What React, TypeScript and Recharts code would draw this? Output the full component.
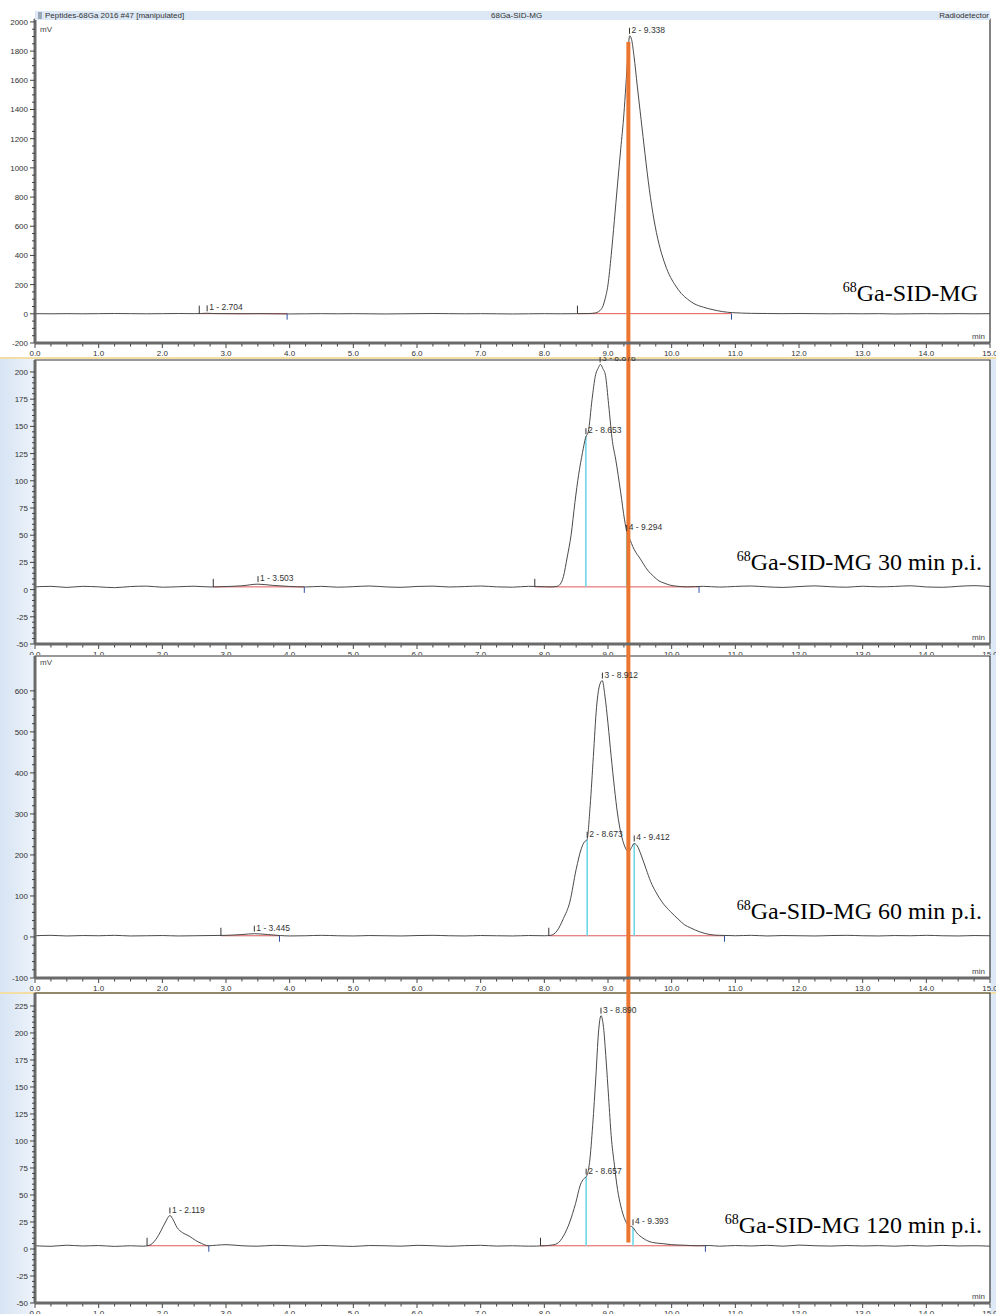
import React from 'react';
import { LineChart, Line, XAxis, YAxis, ReferenceLine, ReferenceDot, ReferenceArea } from 'recharts';

// ---------- DATA ----------
const xMajorTicks = [0, 1, 2, 3, 4, 5, 6, 7, 8, 9, 10, 11, 12, 13, 14, 15];

const p1Trace: number[][] = [
  [0, 1], [0.25, 0], [0.5, 1], [0.75, 0], [1, 1], [1.25, 2], [1.5, 1], [1.75, 0], [2, 1], [2.25, 2], [2.5, 1], [2.6, 2], [2.7, 4], [2.8, 2],
  [3, 1], [3.25, 0], [3.5, 1], [3.75, 0], [4, -1], [4.25, 0], [4.5, 1], [4.75, 0], [5, 1], [5.25, 0], [5.5, -1], [5.75, 0], [6, 1], [6.25, 2],
  [6.5, 1], [6.75, 0], [7, 1], [7.25, 0], [7.5, -1], [7.75, 0], [8, 1], [8.25, 0], [8.5, 1], [8.7, 2], [8.8, 6], [8.9, 35], [8.95, 95],
  [9.0, 200], [9.05, 400], [9.1, 640], [9.15, 890], [9.2, 1130], [9.25, 1370], [9.28, 1560], [9.31, 1760], [9.34, 1905], [9.37, 1880],
  [9.41, 1760], [9.46, 1560], [9.52, 1330], [9.58, 1100], [9.65, 850], [9.72, 650], [9.8, 480], [9.88, 360], [9.96, 270], [10.05, 200],
  [10.15, 140], [10.25, 100], [10.35, 70], [10.5, 45], [10.65, 28], [10.8, 15], [10.95, 8], [11.1, 5], [11.25, 3], [11.5, 2], [11.75, 1],
  [12, 2], [12.25, 1], [12.5, 0], [12.75, 1], [13, 0], [13.25, 1], [13.5, -1], [13.75, 0], [14, 1], [14.25, 0], [14.5, 1], [14.75, 0], [15, 1],
];

const p2Trace: number[][] = [
  [0, 2.5], [0.25, 3], [0.5, 2], [0.75, 3], [1, 2.5], [1.25, 1.8], [1.5, 2.8], [1.75, 3.2], [2, 2.2], [2.25, 2.6], [2.5, 3.1], [2.75, 2.4],
  [3, 2.8], [3.25, 3.5], [3.5, 5], [3.75, 3.8], [4, 2.9], [4.25, 2.4], [4.5, 3], [4.75, 2.2], [5, 2.7], [5.25, 3.3], [5.5, 2.5], [5.75, 2.1],
  [6, 2.9], [6.25, 3.2], [6.5, 2.4], [6.75, 2.8], [7, 3.3], [7.25, 2.5], [7.5, 2.2], [7.75, 3], [8, 2.6], [8.1, 2.4], [8.2, 3], [8.25, 5],
  [8.3, 12], [8.36, 30], [8.42, 50], [8.48, 80], [8.54, 106], [8.6, 126], [8.65, 140], [8.69, 145], [8.75, 175], [8.8, 196], [8.85, 204],
  [8.88, 207], [8.92, 203], [8.96, 197], [9.01, 170], [9.07, 136], [9.12, 120], [9.2, 89], [9.26, 64], [9.3, 52], [9.33, 48], [9.41, 37],
  [9.51, 28], [9.62, 18], [9.72, 12], [9.8, 8], [9.88, 6], [9.98, 4], [10.1, 3], [10.25, 2.5], [10.5, 3], [10.75, 2.3], [11, 2.9],
  [11.25, 3.3], [11.5, 2.5], [11.75, 2], [12, 2.8], [12.25, 3.4], [12.5, 2.6], [12.75, 2.2], [13, 3.1], [13.25, 2.5], [13.5, 2.9],
  [13.75, 3.5], [14, 2.4], [14.25, 2.1], [14.5, 3], [14.75, 3.6], [15, 2.8],
];

const p3Trace: number[][] = [
  [0, 3], [0.25, 4], [0.5, 2.5], [0.75, 3.5], [1, 3], [1.25, 4], [1.5, 2.5], [1.75, 3], [2, 3.5], [2.25, 2.5], [2.5, 3], [2.75, 3.5],
  [3, 4], [3.25, 6], [3.45, 8], [3.65, 6], [3.85, 3.5], [4, 2.5], [4.25, 3], [4.5, 4], [4.75, 3], [5, 2.5], [5.25, 3.5], [5.5, 3],
  [5.75, 2.5], [6, 3.5], [6.25, 4], [6.5, 3], [6.75, 2.5], [7, 3.5], [7.25, 3], [7.5, 2.5], [7.75, 3.5], [8, 3], [8.1, 4], [8.2, 15],
  [8.3, 45], [8.4, 85], [8.5, 165], [8.58, 215], [8.63, 232], [8.67, 237], [8.72, 320], [8.77, 440], [8.82, 560], [8.87, 615], [8.91, 625],
  [8.95, 590], [9.0, 520], [9.05, 440], [9.1, 365], [9.15, 300], [9.2, 255], [9.26, 222], [9.32, 208], [9.37, 218], [9.41, 228],
  [9.46, 222], [9.52, 200], [9.6, 165], [9.67, 135], [9.75, 110], [9.85, 85], [9.98, 62], [10.1, 44], [10.2, 30], [10.3, 22],
  [10.45, 12], [10.6, 6], [10.75, 4], [10.9, 3.5], [11, 3], [11.25, 4], [11.5, 2.5], [11.75, 3.5], [12, 3], [12.25, 2.5], [12.5, 3.5],
  [12.75, 4], [13, 3], [13.25, 2.5], [13.5, 3.5], [13.75, 3], [14, 4], [14.25, 3], [14.5, 2.5], [14.75, 3.5], [15, 3],
];

const p4Trace: number[][] = [
  [0, 3], [0.25, 2.5], [0.5, 3.5], [0.75, 2.8], [1, 3.2], [1.25, 2.4], [1.5, 3], [1.7, 2.6], [1.8, 3.5], [1.9, 9], [1.98, 17], [2.05, 25],
  [2.12, 31], [2.17, 27], [2.23, 20], [2.32, 15], [2.42, 12], [2.52, 8], [2.62, 5], [2.72, 3], [2.85, 3.5], [3, 4], [3.25, 3], [3.5, 2.6],
  [3.75, 3.4], [4, 3], [4.25, 2.5], [4.5, 3.3], [4.75, 2.8], [5, 2.4], [5.25, 3.2], [5.5, 3], [5.75, 2.6], [6, 3.4], [6.25, 3], [6.5, 2.5],
  [6.75, 3.1], [7, 3.4], [7.25, 2.7], [7.5, 3], [7.75, 2.6], [8, 3], [8.1, 3.5], [8.2, 5], [8.3, 12], [8.4, 25], [8.49, 42], [8.57, 60],
  [8.62, 65], [8.66, 67], [8.71, 80], [8.76, 115], [8.81, 160], [8.85, 200], [8.89, 216], [8.93, 205], [8.97, 175], [9.01, 140],
  [9.05, 105], [9.1, 78], [9.15, 55], [9.2, 40], [9.26, 28], [9.32, 22], [9.39, 20], [9.45, 15], [9.55, 10], [9.7, 6], [9.85, 5],
  [10, 4], [10.2, 3.5], [10.4, 3], [10.6, 3.2], [10.75, 2.6], [11, 3.2], [11.25, 2.8], [11.5, 3.4], [11.75, 2.6], [12, 3.6], [12.25, 3],
  [12.5, 2.7], [12.75, 3.2], [13, 2.8], [13.25, 3.1], [13.5, 2.6], [13.75, 3.2], [14, 2.7], [14.25, 3.3], [14.5, 2.8], [14.75, 3], [15, 2.6],
];

// peak labels: [time, value, text]
const p1Peaks: [number, number, string][] = [[2.704, 3, '1 - 2.704'], [9.338, 1905, '2 - 9.338']];
const p2Peaks: [number, number, string][] = [[3.503, 5, '1 - 3.503'], [8.653, 141, '2 - 8.653'], [8.876, 207, '3 - 8.876'], [9.294, 52, '4 - 9.294']];
const p3Peaks: [number, number, string][] = [[3.445, 8, '1 - 3.445'], [8.673, 237, '2 - 8.673'], [8.912, 625, '3 - 8.912'], [9.412, 228, '4 - 9.412']];
const p4Peaks: [number, number, string][] = [[2.119, 31, '1 - 2.119'], [8.657, 67, '2 - 8.657'], [8.89, 216, '3 - 8.890'], [9.393, 20, '4 - 9.393']];

// integration baselines: [start, end, level]
const p1Base: number[][] = [[2.58, 3.96, 1], [8.52, 10.94, 1]];
const p2Base: number[][] = [[2.8, 4.23, 2.5], [7.85, 10.43, 2.5]];
const p3Base: number[][] = [[2.92, 3.84, 3], [8.07, 10.83, 3]];
const p4Base: number[][] = [[1.76, 2.73, 3], [7.94, 10.53, 3]];

// peak separation drop lines: [time, top value]
const p2Drops: number[][] = [[8.653, 141], [9.294, 52]];
const p3Drops: number[][] = [[8.673, 237], [9.412, 228]];
const p4Drops: number[][] = [[8.657, 67], [9.393, 20]];

// orange marker line (time, top value, bottom value) for each panel
const markerTime = 9.32;
const orangeRanges: number[][] = [[1863, -330], [240, -80], [740, -150], [260, 6]];

const panelTitles = ['Ga-SID-MG', 'Ga-SID-MG 30 min p.i.', 'Ga-SID-MG 60 min p.i.', 'Ga-SID-MG 120 min p.i.'];

const p1YMajor = [-200, 0, 200, 400, 600, 800, 1000, 1200, 1400, 1600, 1800, 2000];
const p2YMajor = [-50, -25, 0, 25, 50, 75, 100, 125, 150, 175, 200];
const p3YMajor = [-100, 0, 100, 200, 300, 400, 500, 600];
const p4YMajor = [-50, -25, 0, 25, 50, 75, 100, 125, 150, 175, 200, 225];

// ---------- HELPERS ----------
const sans = '"Liberation Sans", Arial, Helvetica, sans-serif';
const serif = '"Liberation Serif", "Times New Roman", Times, serif';

const steps = (a: number, b: number, s: number) => {
  const out: number[] = [];
  for (let i = 0; a + i * s <= b + 1e-9; i++) out.push(+(a + i * s).toFixed(4));
  return out;
};
const isIn = (arr: number[], v: number) => arr.some((m) => Math.abs(m - v) < 1e-6);

const makeYTick = (majors: number[]) => (props: any) => {
  const { x, y, payload } = props;
  const v = payload.value;
  const major = isIn(majors, v);
  return (
    <g>
      <line x1={x - (major ? 5 : 3)} x2={x} y1={y} y2={y} stroke="#444" strokeWidth={1} />
      {major && (
        <text x={x - 7} y={y} dy={3} textAnchor="end" fontSize={8} fill="#333" fontFamily={sans}>
          {v}
        </text>
      )}
    </g>
  );
};

const XTick = (props: any) => {
  const { x, y, payload } = props;
  const v = payload.value;
  const major = isIn(xMajorTicks, v);
  return (
    <g>
      <line x1={x} x2={x} y1={y + 1} y2={y + (major ? 5 : 3.5)} stroke="#444" strokeWidth={1} />
      {major && (
        <text x={x} y={y + 13} textAnchor="middle" fontSize={8} fill="#333" fontFamily={sans}>
          {v.toFixed(1)}
        </text>
      )}
    </g>
  );
};

const peakLabelShape = (text: string) => (props: any) => {
  const { cx, cy } = props;
  return (
    <g>
      <line x1={cx} x2={cx} y1={cy - 2} y2={cy - 8} stroke="#333" strokeWidth={1} />
      <text x={cx + 2} y={cy - 3} fontSize={8.5} fill="#333" fontFamily={sans}>
        {text}
      </text>
    </g>
  );
};
const startMark = (props: any) => <line x1={props.cx} x2={props.cx} y1={props.cy} y2={props.cy - 8} stroke="#333" strokeWidth={1} />;
const endMark = (props: any) => <line x1={props.cx} x2={props.cx} y1={props.cy} y2={props.cy + 6} stroke="#3050a0" strokeWidth={1} />;

type PanelCfg = {
  top: number;
  height: number;
  marginTop: number;
  xAxisHeight: number;
  domain: [number, number];
  yMajor: number[];
  yMinorStep: number;
  trace: number[][];
  peaks: [number, number, string][];
  base: number[][];
  drops: number[][];
  orange: number[];
  background: string;
  borderTop?: string;
};

const stripBg =
  'linear-gradient(to right, #d7e4f3 0px, #ecf2fa 33px, #ffffff 34px, #ffffff 990px, #dde9f6 991px, #dde9f6 996px)';

const panels: PanelCfg[] = [
  { top: 0, height: 359, marginTop: 19, xAxisHeight: 16, domain: [-200, 2020], yMajor: p1YMajor, yMinorStep: 50, trace: p1Trace, peaks: p1Peaks, base: p1Base, drops: [], orange: orangeRanges[0], background: '#ffffff' },
  { top: 357, height: 302, marginTop: 3, xAxisHeight: 15, domain: [-50, 211], yMajor: p2YMajor, yMinorStep: 5, trace: p2Trace, peaks: p2Peaks, base: p2Base, drops: p2Drops, orange: orangeRanges[1], background: stripBg, borderTop: '2px solid #f3dea6' },
  { top: 655, height: 337, marginTop: 1, xAxisHeight: 14, domain: [-100, 685], yMajor: p3YMajor, yMinorStep: 20, trace: p3Trace, peaks: p3Peaks, base: p3Base, drops: p3Drops, orange: orangeRanges[2], background: stripBg },
  { top: 992, height: 322, marginTop: 1, xAxisHeight: 11, domain: [-50, 237], yMajor: p4YMajor, yMinorStep: 5, trace: p4Trace, peaks: p4Peaks, base: p4Base, drops: p4Drops, orange: orangeRanges[3], background: stripBg, borderTop: '2px solid #f3dea6' },
];

const xTicksAll = steps(0, 15, 0.25);

const Panel = ({ cfg }: { cfg: PanelCfg }) => {
  const data = cfg.trace.map(([t, v]) => ({ t, v }));
  const yTicks = steps(cfg.yMajor[0], cfg.yMajor[cfg.yMajor.length - 1], cfg.yMinorStep);
  return (
    <div
      style={{
        position: 'absolute',
        left: 0,
        top: cfg.top,
        width: 996,
        height: cfg.height,
        background: cfg.background,
        boxSizing: 'border-box',
        borderTop: cfg.borderTop,
      }}
    >
      <div style={{ position: 'absolute', left: 0, top: cfg.borderTop ? -2 : 0 }}>
        <LineChart width={996} height={cfg.height} data={data} margin={{ top: cfg.marginTop, right: 6, bottom: 0, left: 0 }}>
          <ReferenceArea x1={0} x2={15} y1={cfg.domain[0]} y2={cfg.domain[1]} fill="none" stroke="#333" strokeWidth={1.2} ifOverflow="visible" />
          <XAxis
            dataKey="t"
            type="number"
            domain={[0, 15]}
            allowDataOverflow
            ticks={xTicksAll}
            interval={0}
            height={cfg.xAxisHeight}
            tickSize={0}
            tickMargin={0}
            tickLine={false}
            tick={XTick}
            axisLine={{ stroke: '#6a6a6a', strokeWidth: 3 }}
          />
          <YAxis
            type="number"
            domain={cfg.domain}
            allowDataOverflow
            ticks={yTicks}
            interval={0}
            width={35}
            tickSize={0}
            tickMargin={0}
            tickLine={false}
            tick={makeYTick(cfg.yMajor)}
            axisLine={{ stroke: '#6a6a6a', strokeWidth: 3 }}
          />
          {cfg.base.map(([a, b, lv], i) => (
            <ReferenceLine key={'b' + i} segment={[{ x: a, y: lv }, { x: b, y: lv }]} stroke="#e05a5a" strokeWidth={1} ifOverflow="visible" />
          ))}
          {cfg.drops.map(([t, v], i) => (
            <ReferenceLine key={'d' + i} segment={[{ x: t, y: cfg.base[cfg.base.length - 1][2] }, { x: t, y: v }]} stroke="#6fd8e8" strokeWidth={1.6} ifOverflow="visible" />
          ))}
          <Line dataKey="v" type="monotone" stroke="#4a4a4a" strokeWidth={1} dot={false} isAnimationActive={false} />
          {cfg.base.map(([a, , lv], i) => (
            <ReferenceDot key={'s' + i} x={a} y={lv} r={0} ifOverflow="visible" shape={startMark} />
          ))}
          {cfg.base.map(([, b, lv], i) => (
            <ReferenceDot key={'e' + i} x={b} y={lv} r={0} ifOverflow="visible" shape={endMark} />
          ))}
          {cfg.peaks.map(([t, v, txt], i) => (
            <ReferenceDot key={'p' + i} x={t} y={v} r={0} ifOverflow="visible" shape={peakLabelShape(txt)} />
          ))}
          <ReferenceLine
            segment={[{ x: markerTime, y: cfg.orange[0] }, { x: markerTime, y: cfg.orange[1] }]}
            stroke="#ec7630"
            strokeWidth={4}
            ifOverflow="visible"
          />
        </LineChart>
      </div>
    </div>
  );
};

const titleStyle = (right: number, top: number): React.CSSProperties => ({
  position: 'absolute',
  right,
  top,
  fontFamily: serif,
  fontSize: 24,
  lineHeight: '24px',
  whiteSpace: 'nowrap',
  color: '#000',
});

const Title = ({ text, right, top }: { text: string; right: number; top: number }) => (
  <div style={titleStyle(right, top)}>
    <span style={{ fontSize: 14, position: 'relative', top: -9 }}>68</span>
    {text}
  </div>
);

const small = (left: number, top: number): React.CSSProperties => ({
  position: 'absolute',
  left,
  top,
  fontFamily: sans,
  fontSize: 8,
  lineHeight: '8px',
  color: '#444',
  whiteSpace: 'nowrap',
});

export default function App() {
  return (
    <div style={{ position: 'absolute', left: 0, top: 0, width: 996, height: 1314, overflow: 'hidden', background: '#fff' }}>
      {panels.map((p, i) => (
        <Panel key={i} cfg={p} />
      ))}
      {/* header bar */}
      <div style={{ position: 'absolute', left: 35, top: 11, width: 955, height: 9, background: '#dce8f5' }}>
        <div style={{ position: 'absolute', left: 3, top: 1, width: 4, height: 7, background: '#9aa8b8' }} />
        <div style={{ ...small(10, 1), color: '#333' }}>Peptides-68Ga 2016 #47 [manipulated]</div>
        <div style={{ ...small(456, 1), color: '#333' }}>68Ga-SID-MG</div>
        <div style={{ ...small(0, 1), left: 'auto', right: 1, color: '#333' }}>Radiodetector</div>
      </div>
      <div style={small(40, 26)}>mV</div>
      <div style={small(40, 659)}>mV</div>
      <div style={small(972, 333)}>min</div>
      <div style={small(972, 634)}>min</div>
      <div style={small(972, 968)}>min</div>
      <div style={small(972, 1293)}>min</div>
      <Title text={panelTitles[0]} right={18} top={281} />
      <Title text={panelTitles[1]} right={14} top={550} />
      <Title text={panelTitles[2]} right={14} top={899} />
      <Title text={panelTitles[3]} right={14} top={1213} />
    </div>
  );
}
